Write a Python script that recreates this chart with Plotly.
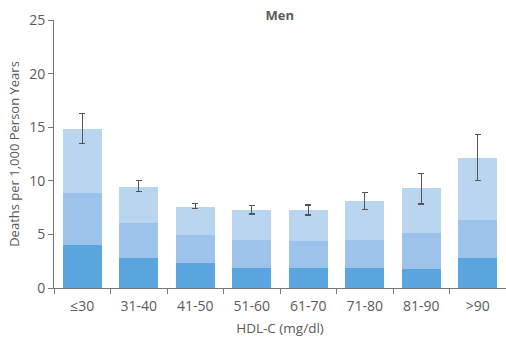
import plotly.graph_objects as go

categories = ["≤30", "31-40", "41-50", "51-60", "61-70", "71-80", "81-90", ">90"]
bottom_vals = [4.0, 2.8, 2.3, 1.9, 1.9, 1.9, 1.8, 2.8]
middle_cum = [8.9, 6.1, 4.9, 4.5, 4.4, 4.5, 5.15, 6.3]
totals = [14.85, 9.45, 7.6, 7.3, 7.3, 8.1, 9.3, 12.15]
err_hi = [16.25, 10.0, 7.9, 7.7, 7.75, 8.9, 10.7, 14.35]
err_lo = [13.5, 9.0, 7.4, 6.9, 6.8, 7.3, 7.85, 10.0]

middle_vals = [m - b for m, b in zip(middle_cum, bottom_vals)]
top_vals = [t - m for t, m in zip(totals, middle_cum)]
plus = [h - t for h, t in zip(err_hi, totals)]
minus = [t - l for t, l in zip(totals, err_lo)]

FONT = "Open Sans"
GRAY = "#5a5a5a"

fig = go.Figure()
fig.add_trace(go.Bar(x=categories, y=bottom_vals, marker=dict(color="#5aa5dd", line=dict(width=0)), showlegend=False))
fig.add_trace(go.Bar(x=categories, y=middle_vals, marker=dict(color="#9dc3ea", line=dict(width=0)), showlegend=False))
fig.add_trace(go.Bar(x=categories, y=top_vals, marker=dict(color="#bad5f0", line=dict(width=0)), showlegend=False,
                     error_y=dict(type="data", symmetric=False, array=plus, arrayminus=minus,
                                  color="#555555", thickness=1.3, width=3)))

fig.update_layout(
    barmode="stack",
    bargap=0.31,
    width=506, height=340,
    margin=dict(l=54, r=0, t=20, b=52),
    paper_bgcolor="white", plot_bgcolor="white",
    font=dict(family=FONT, size=13, color=GRAY),
    title=dict(text="<b>Men</b>", x=0.553, xanchor="center", y=0.955, yanchor="middle",
               font=dict(family=FONT, size=13, color=GRAY)),
)
fig.update_xaxes(
    type="category", tickson="boundaries", ticks="outside", ticklen=5, tickcolor="#777777",
    showline=True, linecolor="#777777", linewidth=1, showgrid=False,
    tickfont=dict(size=14, color=GRAY), ticklabelstandoff=5,
    title=dict(text="HDL-C (mg/dl)", font=dict(size=13.5, color=GRAY), standoff=9),
)
fig.update_yaxes(
    range=[0, 25], tickvals=[0, 5, 10, 15, 20, 25], ticks="outside", ticklen=5, tickcolor="#777777",
    showline=True, linecolor="#777777", linewidth=1, showgrid=False, zeroline=False,
    tickfont=dict(size=14, color=GRAY),
    title=dict(text="Deaths per 1,000 Person Years", font=dict(size=13, color=GRAY), standoff=6),
)

fig.write_html("out.html")
